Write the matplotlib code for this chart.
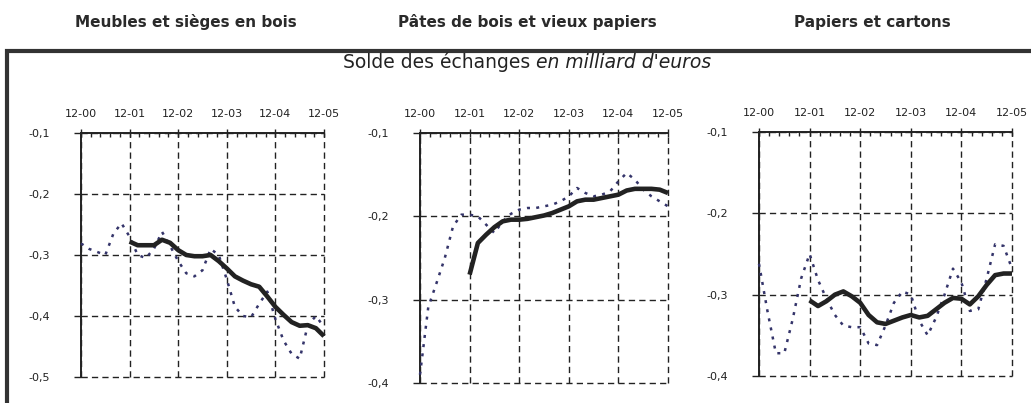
# three small panels : solde des echanges, bois / papiers

import matplotlib
matplotlib.use('Agg')

import matplotlib.pyplot as plt
import matplotlib.ticker as ticker
from matplotlib.patches import Rectangle

plt.rcParams['font.family'] = ['DejaVu Sans']

# months since 12-00, one point every two months
months = [0, 2, 4, 6, 8, 10, 12, 14, 16, 18, 20, 22, 24, 26, 28, 30,
          32, 34, 36, 38, 40, 42, 44, 46, 48, 50, 52, 54, 56, 58, 60]
months_ma = months[6:]

tick_labels = ['12-00', '12-01', '12-02', '12-03', '12-04', '12-05']
titles = ['Meubles et sièges en bois', 'Pâtes de bois et vieux papiers', 'Papiers et cartons']

# monthly balance (dotted) and 12-month average (solid)
meubles = [-0.281, -0.290, -0.295, -0.300, -0.265, -0.248, -0.270, -0.300,
           -0.305, -0.290, -0.262, -0.285, -0.310, -0.330, -0.335, -0.325,
           -0.290, -0.300, -0.340, -0.385, -0.400, -0.402, -0.380, -0.360,
           -0.405, -0.440, -0.462, -0.470, -0.415, -0.400, -0.418]
meubles_ma = [-0.278, -0.284, -0.284, -0.284, -0.275, -0.280, -0.292, -0.300,
              -0.302, -0.302, -0.300, -0.310, -0.322, -0.335, -0.342, -0.348,
              -0.352, -0.368, -0.385, -0.398, -0.410, -0.416, -0.415, -0.420,
              -0.433]

pates = [-0.390, -0.309, -0.280, -0.250, -0.212, -0.198, -0.198, -0.200,
         -0.210, -0.220, -0.206, -0.197, -0.192, -0.190, -0.190, -0.188,
         -0.186, -0.182, -0.176, -0.166, -0.172, -0.176, -0.174, -0.170,
         -0.158, -0.148, -0.156, -0.168, -0.176, -0.182, -0.188]
pates_ma = [-0.270, -0.232, -0.222, -0.213, -0.206, -0.204, -0.204, -0.203,
            -0.201, -0.199, -0.196, -0.192, -0.188, -0.182, -0.180, -0.180,
            -0.178, -0.176, -0.174, -0.169, -0.167, -0.167, -0.167, -0.168,
            -0.172]

papiers = [-0.262, -0.320, -0.372, -0.372, -0.330, -0.280, -0.250, -0.282,
           -0.305, -0.325, -0.338, -0.340, -0.340, -0.360, -0.362, -0.338,
           -0.310, -0.296, -0.300, -0.332, -0.350, -0.328, -0.300, -0.268,
           -0.285, -0.320, -0.318, -0.280, -0.238, -0.240, -0.268]
papiers_ma = [-0.307, -0.314, -0.308, -0.300, -0.296, -0.302, -0.310, -0.325,
              -0.334, -0.336, -0.332, -0.328, -0.325, -0.328, -0.326, -0.318,
              -0.310, -0.304, -0.305, -0.312, -0.302, -0.288, -0.276, -0.274,
              -0.274]

series = [(meubles, meubles_ma, -0.5), (pates, pates_ma, -0.4), (papiers, papiers_ma, -0.4)]

# axes boxes in pixels : left, top, right, bottom
boxes = [(81, 133, 324, 377), (420, 133, 668, 383), (759, 132, 1012, 376)]

W, H = 1031, 403
fig = plt.figure(figsize=(W / 100, H / 100), dpi=100)

def comma(v, pos):
    return ('%.1f' % v).replace('.', ',')

for (l, t, r, b), (monthly, avg, ymin) in zip(boxes, series):
    ax = fig.add_axes([l / W, 1 - b / H, (r - l) / W, (b - t) / H])
    ax.plot(months, monthly, color='#34346a', lw=1.8, linestyle=(0, (1.2, 2.5)),
            clip_on=False, zorder=3)
    ax.plot(months_ma, avg, color='#222222', lw=3.3, solid_capstyle='butt',
            clip_on=False, zorder=4)

    ax.set_xlim(0, 60)
    ax.set_ylim(ymin, -0.1)

    ax.xaxis.tick_top()
    ax.set_xticks([0, 12, 24, 36, 48, 60])
    ax.set_xticklabels(tick_labels)
    ax.xaxis.set_minor_locator(ticker.MultipleLocator(2.4))
    ax.set_yticks([ymin + 0.1 * i for i in range(int(round((-0.1 - ymin) / 0.1)) + 1)])
    ax.yaxis.set_major_formatter(ticker.FuncFormatter(comma))

    ax.tick_params(axis='x', which='major', direction='inout', length=6, width=1,
                   labelsize=8, pad=7, colors='#222222')
    ax.tick_params(axis='x', which='minor', direction='in', length=3, width=1,
                   color='#222222')
    ax.tick_params(axis='y', direction='out', length=5, width=1, labelsize=8,
                   pad=17, colors='#222222')

    # dashed grid, with the right and bottom borders drawn as grid too
    for sp in ['right', 'bottom']:
        ax.spines[sp].set_visible(False)
    for sp in ['left', 'top']:
        ax.spines[sp].set_linewidth(1.4)
        ax.spines[sp].set_color('#222222')
    ax.grid(True, which='major', color='#222222', lw=1, linestyle=(0, (4.5, 3)))
    for gl in ax.get_xgridlines() + ax.get_ygridlines():
        gl.set_clip_on(False)
    ax.set_facecolor('none')

# column titles
for x, s in zip([186, 527, 872], titles):
    fig.text(x / W, 1 - 22 / H, s, ha='center', va='center', fontsize=11,
             fontweight='bold', color='#2a2a2a')

# framed box with subtitle
fig.patches.append(Rectangle((7 / W, -0.1), 1.2, 1 - 51 / H + 0.1, transform=fig.transFigure,
                             fill=False, lw=3, edgecolor='#333333', clip_on=False))
t1 = fig.text(343 / W, 1 - 62 / H, "Solde des échanges ", ha='left', va='center',
              fontsize=13.5, color='#222222')
ax.annotate("en milliard d'euros", xy=(1, 0), xycoords=t1, va='bottom', ha='left',
            fontsize=13.5, style='italic', color='#222222', annotation_clip=False)

fig.savefig('out.png', dpi=100)
